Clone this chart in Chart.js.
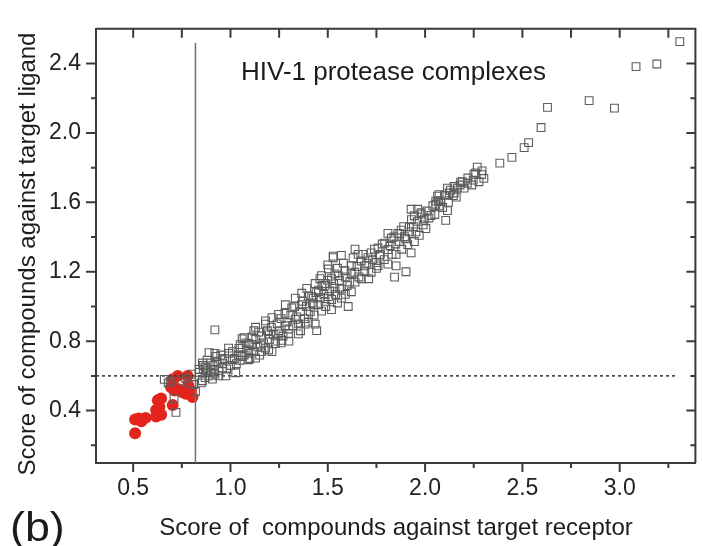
<!DOCTYPE html>
<html>
<head>
<meta charset="utf-8">
<script src="https://cdn.jsdelivr.net/npm/chart.js@4.4.0/dist/chart.umd.min.js"></script>
<style>
  html, body { margin: 0; padding: 0; background: #fff; }
  #wrap { width: 702px; height: 546px; }
</style>
</head>
<body>
<div id="wrap"><canvas id="plot" width="702" height="546"></canvas></div>
<script>
// tick values
const xMajor = [0.5, 1.0, 1.5, 2.0, 2.5, 3.0];
const xMinor = [0.75, 1.25, 1.75, 2.25, 2.75, 3.25];
const yMajor = [0.4, 0.8, 1.2, 1.6, 2.0, 2.4];
const yMinor = [0.2, 0.6, 1.0, 1.4, 1.8, 2.2];

// cut-off lines
const receptorCut = 0.82;
const ligandCut = 0.6;

// red points: [score vs receptor, score vs ligand]
const redPoints = [
  [0.51, 0.27], [0.51, 0.348], [0.542, 0.338], [0.564, 0.358], [0.528, 0.355],
  [0.627, 0.46], [0.644, 0.469], [0.618, 0.404], [0.635, 0.422], [0.644, 0.376],
  [0.618, 0.366], [0.703, 0.432], [0.712, 0.516], [0.729, 0.6], [0.78, 0.6],
  [0.729, 0.525], [0.754, 0.506], [0.771, 0.497], [0.797, 0.516], [0.805, 0.478],
  [0.703, 0.581], [0.695, 0.534], [0.783, 0.545]
];

// open squares: [score vs receptor, score vs ligand]
const squarePoints = [
  [0.68, 0.56], [0.72, 0.39], [0.71, 0.47], [0.75, 0.57], [0.78, 0.56], [0.80, 0.61],
  [0.82, 0.51], [0.81, 0.55], [0.84, 0.62], [0.86, 0.66], [0.88, 0.63], [0.92, 0.61],
  [0.87, 0.59], [0.85, 0.56], [0.77, 0.585], [0.66, 0.58], [0.69, 0.57], [0.92, 0.865],
  [0.839, 0.637], [0.856, 0.674], [0.873, 0.618], [0.899, 0.674], [0.89, 0.734], [0.907, 0.581],
  [0.916, 0.637], [0.924, 0.712], [0.958, 0.693], [0.958, 0.646], [0.976, 0.60], [0.856, 0.572],
  [0.992, 0.73], [1.009, 0.693], [1.027, 0.618], [1.043, 0.758], [1.06, 0.814], [1.06, 0.712],
  [1.094, 0.73], [1.094, 0.786], [1.094, 0.693], [1.111, 0.824], [1.129, 0.702], [1.129, 0.88],
  [1.145, 0.852], [1.154, 0.777], [1.18, 0.898], [1.18, 0.917], [1.196, 0.842], [1.196, 0.749],
  [1.213, 0.936], [1.213, 0.74], [1.231, 0.786], [1.247, 0.842], [1.247, 0.954], [1.264, 0.805],
  [1.282, 0.889], [1.282, 1.01], [1.298, 0.842], [1.315, 0.992], [1.333, 0.926], [1.333, 1.048],
  [1.349, 0.842], [1.366, 1.01], [1.366, 1.076], [1.384, 0.898], [1.392, 1.104], [1.40, 0.954],
  [1.417, 1.057], [1.426, 1.01], [1.426, 1.048], [1.435, 0.898], [1.435, 1.132], [1.443, 0.861],
  [1.452, 1.085], [1.452, 1.094], [1.468, 0.973], [1.468, 1.178], [1.486, 1.029], [1.486, 1.132],
  [1.486, 1.122], [1.503, 1.216], [1.503, 1.057], [1.519, 0.982], [1.519, 1.16], [1.528, 1.281],
  [1.528, 1.29], [1.537, 1.188], [1.537, 1.104], [1.554, 1.178], [1.562, 1.104], [1.57, 1.294],
  [1.57, 1.048], [1.588, 1.206], [1.605, 1.00], [1.613, 1.141], [1.621, 1.234], [1.621, 1.085],
  [1.639, 1.197], [1.656, 1.30], [1.672, 1.262], [1.672, 1.16], [1.69, 1.234], [1.707, 1.281],
  [1.723, 1.309], [1.723, 1.197], [1.749, 1.253], [1.758, 1.337], [1.758, 1.234], [1.766, 1.29],
  [1.792, 1.365], [1.809, 1.421], [1.809, 1.328], [1.809, 1.244], [1.826, 1.393], [1.843, 1.169],
  [1.851, 1.30], [1.851, 1.234], [1.86, 1.421], [1.868, 1.374], [1.877, 1.44], [1.894, 1.402],
  [1.902, 1.20], [1.911, 1.356], [1.919, 1.458], [1.928, 1.56], [1.928, 1.309], [1.945, 1.523],
  [1.945, 1.374], [1.953, 1.43], [1.962, 1.56], [1.979, 1.532], [1.996, 1.504], [2.004, 1.449],
  [2.03, 1.524], [2.055, 1.607], [2.055, 1.589], [2.064, 1.636], [2.072, 1.644], [2.072, 1.579],
  [2.081, 1.604], [2.106, 1.496], [2.115, 1.552], [2.115, 1.682], [2.124, 1.654], [2.145, 1.639],
  [2.149, 1.691], [2.149, 1.654], [2.166, 1.682], [2.183, 1.716], [2.192, 1.719], [2.20, 1.682],
  [2.217, 1.71], [2.247, 1.728], [2.251, 1.762], [2.268, 1.803], [2.277, 1.719], [2.293, 1.781],
  [2.302, 1.738], [2.384, 1.826], [2.446, 1.859], [2.509, 1.915], [2.532, 1.944], [2.596, 2.031],
  [2.629, 2.147], [2.843, 2.186], [2.973, 2.143], [3.084, 2.382], [3.191, 2.397], [3.309, 2.526],
  // denser part of the band
  [0.87, 0.65], [0.88, 0.69], [0.90, 0.62], [0.91, 0.66], [0.93, 0.68], [0.94, 0.63],
  [0.95, 0.72], [0.96, 0.67], [0.97, 0.70], [0.98, 0.64], [0.99, 0.76], [1.00, 0.66],
  [1.01, 0.74], [1.02, 0.70], [1.03, 0.67], [1.04, 0.72], [0.94, 0.60], [0.92, 0.73],
  [0.89, 0.60], [0.86, 0.64], [1.05, 0.69], [1.06, 0.76], [1.07, 0.72], [1.08, 0.79],
  [1.09, 0.75], [1.10, 0.70], [1.11, 0.78], [1.12, 0.74], [1.13, 0.81], [1.14, 0.77],
  [1.15, 0.72], [1.16, 0.83], [1.17, 0.79], [1.18, 0.76], [1.19, 0.86], [1.20, 0.81],
  [1.21, 0.88], [1.22, 0.84], [1.23, 0.80], [1.24, 0.90], [1.07, 0.82], [1.12, 0.86],
  [1.16, 0.74], [1.05, 0.78], [1.25, 0.86], [1.26, 0.93], [1.27, 0.83], [1.28, 0.96],
  [1.29, 0.91], [1.30, 0.87], [1.31, 0.95], [1.32, 0.89], [1.33, 1.00], [1.34, 0.94],
  [1.35, 0.90], [1.36, 0.97], [1.37, 1.03], [1.38, 0.93], [1.39, 1.00], [1.40, 1.06],
  [1.41, 0.97], [1.42, 1.02], [1.43, 0.95], [1.44, 1.08], [1.26, 0.79], [1.30, 0.80],
  [1.36, 0.86], [1.40, 0.91], [1.45, 1.01], [1.46, 1.05], [1.47, 1.12], [1.48, 1.07],
  [1.49, 1.00], [1.50, 1.15], [1.51, 1.09], [1.52, 1.04], [1.53, 1.13], [1.54, 1.07],
  [1.55, 1.22], [1.56, 1.15], [1.57, 1.10], [1.58, 1.25], [1.59, 1.17], [1.60, 1.12],
  [1.50, 1.24], [1.55, 1.02], [1.46, 1.16], [1.59, 1.07], [1.62, 1.19], [1.63, 1.28],
  [1.64, 1.14], [1.65, 1.23], [1.66, 1.17], [1.68, 1.30], [1.69, 1.20], [1.70, 1.25],
  [1.71, 1.16], [1.73, 1.27], [1.74, 1.33], [1.75, 1.22], [1.77, 1.30], [1.78, 1.36],
  [1.79, 1.27], [1.64, 1.33], [1.82, 1.35], [1.83, 1.30], [1.84, 1.40], [1.85, 1.36],
  [1.87, 1.42], [1.88, 1.33], [1.89, 1.46], [1.90, 1.39], [1.92, 1.43], [1.93, 1.50],
  [1.94, 1.46], [1.96, 1.49], [1.97, 1.41], [1.98, 1.54], [1.99, 1.47], [2.01, 1.55],
  [2.02, 1.51], [2.04, 1.58], [2.05, 1.53], [2.07, 1.61], [2.09, 1.57], [2.10, 1.64],
  [2.12, 1.60], [2.13, 1.67], [2.16, 1.63], [2.18, 1.70], [2.22, 1.74], [2.24, 1.70],
  [2.26, 1.77], [2.29, 1.76]
];

const xTitle = "Score of  compounds against target receptor";
const yTitle = "Score of compounds against target ligand";
const panelLabel = "(b)";
const setLabel = "HIV-1 protease complexes";

const FONT = "'Liberation Sans', Arial, sans-serif";
const AXIS_COLOR = "#3a3a3a";

const X_MIN = 0.309, X_MAX = 3.389;
const Y_MIN = 0.098, Y_MAX = 2.6;

const toXY = (pts) => pts.map(([x, y]) => ({ x, y }));

// frame, tick marks and free text
const framePlugin = {
  id: "frame",
  afterDraw(chart) {
    const { ctx, chartArea: a, scales } = chart;
    const sx = scales.x, sy = scales.y;
    ctx.save();
    ctx.strokeStyle = AXIS_COLOR;
    ctx.lineWidth = 2;
    ctx.beginPath();
    ctx.moveTo(a.left, a.top);
    ctx.lineTo(a.right, a.top);
    ctx.lineTo(a.right, a.bottom);
    ctx.stroke();

    ctx.beginPath();
    xMajor.concat(xMinor).forEach((v) => {
      const px = sx.getPixelForValue(v);
      const major = xMajor.includes(v);
      ctx.moveTo(px, a.bottom);
      ctx.lineTo(px, a.bottom + (major ? 9 : 5));
      ctx.moveTo(px, a.top);
      ctx.lineTo(px, a.top + 9);
    });
    yMajor.concat(yMinor).forEach((v) => {
      const py = sy.getPixelForValue(v);
      const major = yMajor.includes(v);
      ctx.moveTo(a.left, py);
      ctx.lineTo(a.left - (major ? 10 : 5), py);
      ctx.moveTo(a.right, py);
      ctx.lineTo(a.right - (major ? 9 : 5), py);
    });
    ctx.stroke();

    ctx.fillStyle = "#1c1c1c";
    ctx.textBaseline = "alphabetic";
    ctx.font = "24px " + FONT;
    ctx.textAlign = "center";
    ctx.fillText(xTitle, 396, 535);

    ctx.save();
    ctx.translate(35, 254);
    ctx.rotate(-Math.PI / 2);
    ctx.fillText(yTitle, 0, 0);
    ctx.restore();

    ctx.textAlign = "left";
    ctx.font = "26px " + FONT;
    ctx.fillText(setLabel, 241, 80);

    // the panel letter is drawn a bit wide, as in the figure
    ctx.save();
    ctx.translate(10, 541);
    ctx.scale(1.12, 1);
    ctx.font = "40px " + FONT;
    ctx.fillText(panelLabel, 0, 0);
    ctx.restore();
    ctx.restore();
  }
};

new Chart(document.getElementById("plot"), {
  type: "scatter",
  data: {
    datasets: [
      {
        label: "complexes",
        data: toXY(squarePoints),
        pointStyle: "rect",
        pointRadius: 5.5,
        borderColor: "#5c5c5c",
        borderWidth: 1.1,
        backgroundColor: "rgba(0,0,0,0)",
        order: 1
      },
      {
        label: "cutoff receptor",
        data: [{ x: receptorCut, y: Y_MIN }, { x: receptorCut, y: 2.52 }],
        showLine: true,
        pointRadius: 0,
        borderColor: "#707070",
        borderWidth: 1.5,
        order: 2
      },
      {
        label: "cutoff ligand",
        data: [{ x: X_MIN, y: ligandCut }, { x: 3.30, y: ligandCut }],
        showLine: true,
        pointRadius: 0,
        borderColor: "#333",
        borderWidth: 1.5,
        borderDash: [3, 3],
        order: 2
      },
      {
        label: "decoys",
        data: toXY(redPoints),
        pointStyle: "circle",
        pointRadius: 6,
        borderWidth: 0,
        backgroundColor: "#e3241c",
        order: 3
      }
    ]
  },
  options: {
    responsive: false,
    animation: false,
    events: [],
    layout: { padding: { top: 16, right: 1, left: 0, bottom: 0 } },
    plugins: {
      legend: { display: false },
      tooltip: { enabled: false }
    },
    scales: {
      x: {
        type: "linear",
        min: X_MIN,
        max: X_MAX,
        afterBuildTicks: (s) => { s.ticks = xMajor.map((v) => ({ value: v })); },
        afterFit: (s) => { s.height = 83; },
        grid: { display: false, drawTicks: false },
        border: { display: true, color: AXIS_COLOR, width: 2 },
        ticks: {
          padding: 12,
          color: "#222",
          font: { family: FONT, size: 23 },
          maxRotation: 0,
          autoSkip: false,
          callback: (v) => Number(v).toFixed(1)
        }
      },
      y: {
        type: "linear",
        min: Y_MIN,
        max: Y_MAX,
        afterBuildTicks: (s) => { s.ticks = yMajor.map((v) => ({ value: v })); },
        afterFit: (s) => { s.width = 96; },
        grid: { display: false, drawTicks: false },
        border: { display: true, color: AXIS_COLOR, width: 2 },
        ticks: {
          padding: 15,
          color: "#222",
          font: { family: FONT, size: 23 },
          autoSkip: false,
          callback: (v) => Number(v).toFixed(1)
        }
      }
    }
  },
  plugins: [framePlugin]
});
</script>
</body>
</html>
